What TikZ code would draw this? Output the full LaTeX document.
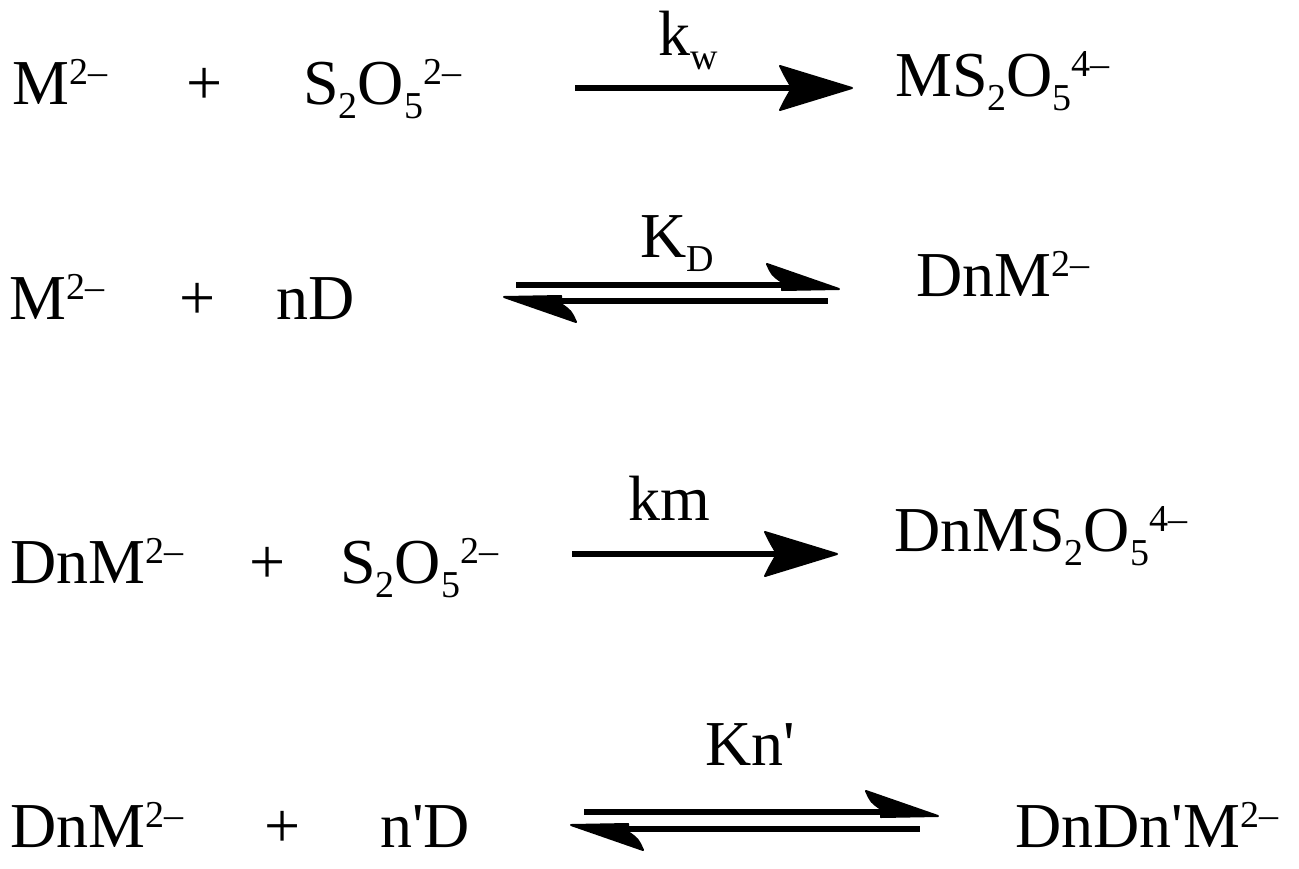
\documentclass[tikz,border=0pt]{standalone}
\usepackage{fontspec}
\setmainfont{Liberation Serif}[Ligatures=TeXOff]
\newcommand\supx[1]{\raisebox{20pt}{\fontsize{38}{38}\selectfont #1}}
\newcommand\subx[1]{\raisebox{-14pt}{\fontsize{38}{38}\selectfont #1}}
\tikzset{
  rxn/.style={font=\fontsize{64}{64}\selectfont, anchor=base west, inner sep=0pt},
  plus/.style={font=\fontsize{64}{64}\selectfont, anchor=base, inner sep=0pt},
  bar/.style={line width=6.5pt},
  head/.style={fill=black, draw=black, line width=2pt, line join=round},
}
\begin{document}
\begin{tikzpicture}[x=1pt,y=-1pt]
\useasboundingbox[fill=white] (0,0) rectangle (1299,868);

% ---------- row 1 ----------
\node[rxn] (m1) at (12,104) {M\supx{2–}};
\node[plus] (p1) at (205,104) {+};
\node[rxn] (s1) at (303,104) {S\subx{2}O\subx{5}\supx{2–}};
\node[rxn] (kw) at (658,55) {k\subx{w}};
\node[rxn] (ms) at (895,96) {MS\subx{2}O\subx{5}\supx{4–}};
\coordinate (a1s) at (575,88);
\coordinate (a1e) at (800,88);
\draw[bar] (a1s) -- (a1e);
\fill[head, shift={(852,88)}] (0,0) -- (-72,-22) .. controls (-67,-12) .. (-60,0) .. controls (-67,12) .. (-72,22) -- cycle;

% ---------- row 2 ----------
\node[rxn] (m2) at (9,319) {M\supx{2–}};
\node[plus] (p2) at (198,319) {+};
\node[rxn] (nd) at (276,319) {nD};
\node[rxn] (kd) at (640,257) {K\subx{D}};
\node[rxn] (dnm) at (916,296) {DnM\supx{2–}};
\coordinate (u2s) at (516,285);
\coordinate (u2e) at (790,285);
\coordinate (l2s) at (550,301);
\coordinate (l2e) at (828,301);
\draw[bar] (u2s) -- (u2e);
\draw[bar] (l2s) -- (l2e);
\fill[head, shift={(839,285)}] (0,4) -- (-72,-21) .. controls (-67,-10) .. (-57,-3) -- (-57,5) -- cycle;
\fill[head, shift={(504,301)}] (0,-4) -- (72,21) .. controls (67,10) .. (57,3) -- (57,-5) -- cycle;

% ---------- row 3 ----------
\node[rxn] (dnm3) at (10,583) {DnM\supx{2–}};
\node[plus] (p3) at (268,583) {+};
\node[rxn] (s3) at (340,583) {S\subx{2}O\subx{5}\supx{2–}};
\node[rxn] (km) at (628,520) {km};
\node[rxn] (dnms) at (894,551) {DnMS\subx{2}O\subx{5}\supx{4–}};
\coordinate (a3s) at (572,554);
\coordinate (a3e) at (785,554);
\draw[bar] (a3s) -- (a3e);
\fill[head, shift={(837,554)}] (0,0) -- (-72,-22) .. controls (-67,-12) .. (-60,0) .. controls (-67,12) .. (-72,22) -- cycle;

% ---------- row 4 ----------
\node[rxn] (dnm4) at (10,847) {DnM\supx{2–}};
\node[plus] (p4) at (283,847) {+};
\node[rxn] (npd) at (380,847) {n'D};
\node[rxn] (kn) at (705,765) {Kn'};
\node[rxn] (dnd) at (1015,847) {DnDn'M\supx{2–}};
\coordinate (u4s) at (584,812);
\coordinate (u4e) at (890,812);
\coordinate (l4s) at (620,829);
\coordinate (l4e) at (920,829);
\draw[bar] (u4s) -- (u4e);
\draw[bar] (l4s) -- (l4e);
\fill[head, shift={(938,812)}] (0,4) -- (-72,-21) .. controls (-67,-10) .. (-57,-3) -- (-57,5) -- cycle;
\fill[head, shift={(571,829)}] (0,-4) -- (72,21) .. controls (67,10) .. (57,3) -- (57,-5) -- cycle;
\end{tikzpicture}
\end{document}
